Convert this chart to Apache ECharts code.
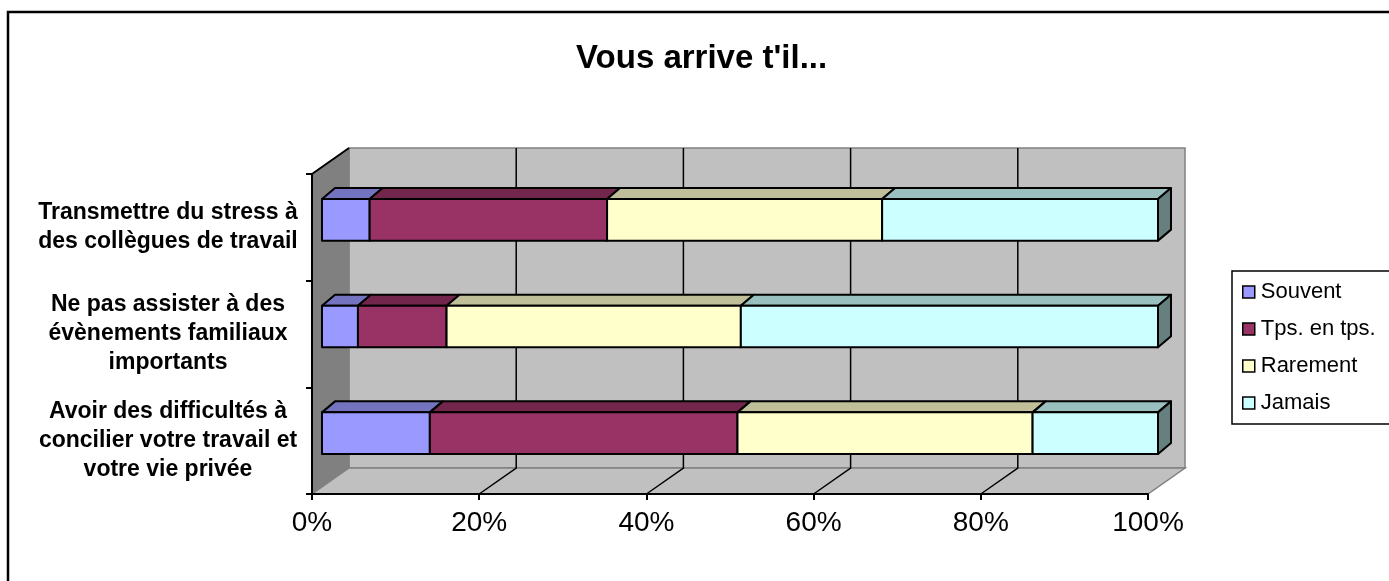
<!DOCTYPE html>
<html>
<head>
<meta charset="utf-8">
<script src="https://cdn.jsdelivr.net/npm/echarts@6/dist/echarts.min.js"></script>
<style>
html,body{margin:0;padding:0;background:#fff;}
#chart{width:1389px;height:581px;}
</style>
</head>
<body>
<div id="chart"></div>
<script>
// ---- data ----
var categories = [
  "Transmettre du stress à\ndes collègues de travail",
  "Ne pas assister à des\névènements familiaux\nimportants",
  "Avoir des difficultés à\nconcilier votre travail et\nvotre vie privée"
];
var seriesNames = ["Souvent", "Tps. en tps.", "Rarement", "Jamais"];
var souvent  = [5.7, 4.3, 12.9];
var tpsEnTps = [28.4, 10.6, 36.8];
var rarement = [32.9, 35.2, 35.3];
var jamais   = [33.0, 49.9, 15.0];
var xTicks = [0, 20, 40, 60, 80, 100];
var titleText = "Vous arrive t'il...";

// ---- styles ----
var FONT = "'Liberation Sans', Arial, sans-serif";
var frontColors = ["#9999FF", "#993366", "#FFFFCC", "#CCFFFF"];
var topColors   = ["#7373BF", "#73264C", "#BFBF99", "#99BFBF"];
var sideColors  = ["#4D4D80", "#4D1A33", "#808066", "#668080"];
var DEPTH = [37, -26];      // full depth of the 3D box
var BAR_OFF = [10, -7.5];   // bar front plane offset
var BAR_DEPTH = [13, -11];  // bar thickness in depth

var allValues = [souvent, tpsEnTps, rarement, jamais];
var totals = categories.map(function (c, i) {
  return allValues.reduce(function (s, arr) { return s + arr[i]; }, 0);
});

function stackedData(k) {
  return categories.map(function (c, i) {
    var start = 0;
    for (var j = 0; j < k; j++) start += allValues[j][i] / totals[i] * 100;
    var end = start + allValues[k][i] / totals[i] * 100;
    return [start, end, i];
  });
}

function wallsRender(params, api) {
  var cs = params.coordSys;
  var gx = cs.x, gy = cs.y, gw = cs.width, gh = cs.height;
  var dx = DEPTH[0], dy = DEPTH[1];
  var children = [];
  children.push({type: 'rect', shape: {x: gx + dx, y: gy + dy, width: gw, height: gh},
    style: {fill: '#C0C0C0', stroke: '#808080', lineWidth: 1.5}});
  children.push({type: 'polygon', shape: {points: [[gx, gy], [gx, gy + gh], [gx + dx, gy + gh + dy], [gx + dx, gy + dy]]},
    style: {fill: '#808080', stroke: '#808080', lineWidth: 1}});
  children.push({type: 'polygon', shape: {points: [[gx, gy + gh], [gx + gw, gy + gh], [gx + gw + dx, gy + gh + dy], [gx + dx, gy + gh + dy]]},
    style: {fill: '#C0C0C0', stroke: '#808080', lineWidth: 1.5}});
  xTicks.forEach(function (v) {
    if (v === xTicks[0] || v === xTicks[xTicks.length - 1]) return;
    var px = api.coord([v, 0])[0];
    children.push({type: 'polyline', shape: {points: [[px, gy + gh], [px + dx, gy + gh + dy], [px + dx, gy + dy]]},
      style: {fill: null, stroke: '#000', lineWidth: 1.5}});
  });
  children.push({type: 'line', shape: {x1: gx, y1: gy, x2: gx + dx, y2: gy + dy},
    style: {stroke: '#000', lineWidth: 2}});
  return {type: 'group', children: children};
}

function makeBarRender(k) {
  return function (params, api) {
    var p0 = api.coord([api.value(0), api.value(2)]);
    var p1 = api.coord([api.value(1), api.value(2)]);
    var band = api.size([0, 1])[1];
    var h = band * 0.39;
    var cy = p0[1] + BAR_OFF[1];
    var L = p0[0] + BAR_OFF[0], R = p1[0] + BAR_OFF[0];
    var T = cy - h / 2, B = cy + h / 2;
    var bx = BAR_DEPTH[0], by = BAR_DEPTH[1];
    var st = {stroke: '#000', lineWidth: 2, lineJoin: 'round'};
    var children = [
      {type: 'polygon', shape: {points: [[L, T], [L + bx, T + by], [R + bx, T + by], [R, T]]},
        style: Object.assign({fill: topColors[k]}, st)},
      {type: 'polygon', shape: {points: [[L, T], [R, T], [R, B], [L, B]]},
        style: Object.assign({fill: frontColors[k]}, st)}
    ];
    if (k === allValues.length - 1) {
      children.push({type: 'polygon', shape: {points: [[R, T], [R + bx, T + by], [R + bx, B + by], [R, B]]},
        style: Object.assign({fill: sideColors[k]}, st)});
    }
    return {type: 'group', children: children};
  };
}

var series = [{
  type: 'custom',
  name: '_walls',
  z: 1,
  silent: true,
  data: [[0, 0, 0]],
  encode: {x: 0, y: 2},
  renderItem: wallsRender
}];
seriesNames.forEach(function (name, k) {
  series.push({
    type: 'custom',
    name: name,
    z: 2 + k,
    itemStyle: {color: frontColors[k]},
    data: stackedData(k),
    encode: {x: [0, 1], y: 2},
    renderItem: makeBarRender(k)
  });
});

var chart = echarts.init(document.getElementById('chart'), null, {renderer: 'canvas'});
chart.setOption({
  animation: false,
  backgroundColor: '#fff',
  title: {
    text: titleText,
    left: 576, top: 42, padding: 0,
    textStyle: {fontFamily: FONT, fontSize: 33, fontWeight: 'bold', color: '#000'}
  },
  graphic: [{
    type: 'rect', silent: true, z: 100,
    shape: {x: 8, y: 12, width: 2000, height: 2000},
    style: {fill: null, stroke: '#000', lineWidth: 2.5}
  }],
  legend: {
    orient: 'vertical',
    left: 1232, top: 271,
    data: seriesNames,
    icon: 'rect',
    itemWidth: 12, itemHeight: 12,
    itemGap: 13,
    padding: [9, 30, 9, 10],
    borderColor: '#000', borderWidth: 1.5,
    itemStyle: {borderColor: '#000', borderWidth: 1.5},
    textStyle: {fontFamily: FONT, fontSize: 22, color: '#000', lineHeight: 24, padding: [0, 0, 0, 1]}
  },
  grid: {left: 312, top: 174, width: 836, height: 320, containLabel: false},
  xAxis: {
    type: 'value', min: 0, max: 100, interval: 20,
    z: 10,
    axisLine: {show: true, lineStyle: {color: '#000', width: 2}},
    axisTick: {show: true, length: 6, lineStyle: {color: '#000', width: 2}},
    splitLine: {show: false},
    axisLabel: {formatter: '{value}%', fontFamily: FONT, fontSize: 28, color: '#000', margin: 15}
  },
  yAxis: {
    type: 'category', data: categories, inverse: true,
    z: 10,
    axisLine: {show: true, lineStyle: {color: '#000', width: 2}},
    axisTick: {show: true, length: 6, lineStyle: {color: '#000', width: 2}},
    splitLine: {show: false},
    axisLabel: {fontFamily: FONT, fontSize: 23, fontWeight: 'bold', color: '#000',
      align: 'center', margin: 144, lineHeight: 29}
  },
  series: series
});
</script>
</body>
</html>
